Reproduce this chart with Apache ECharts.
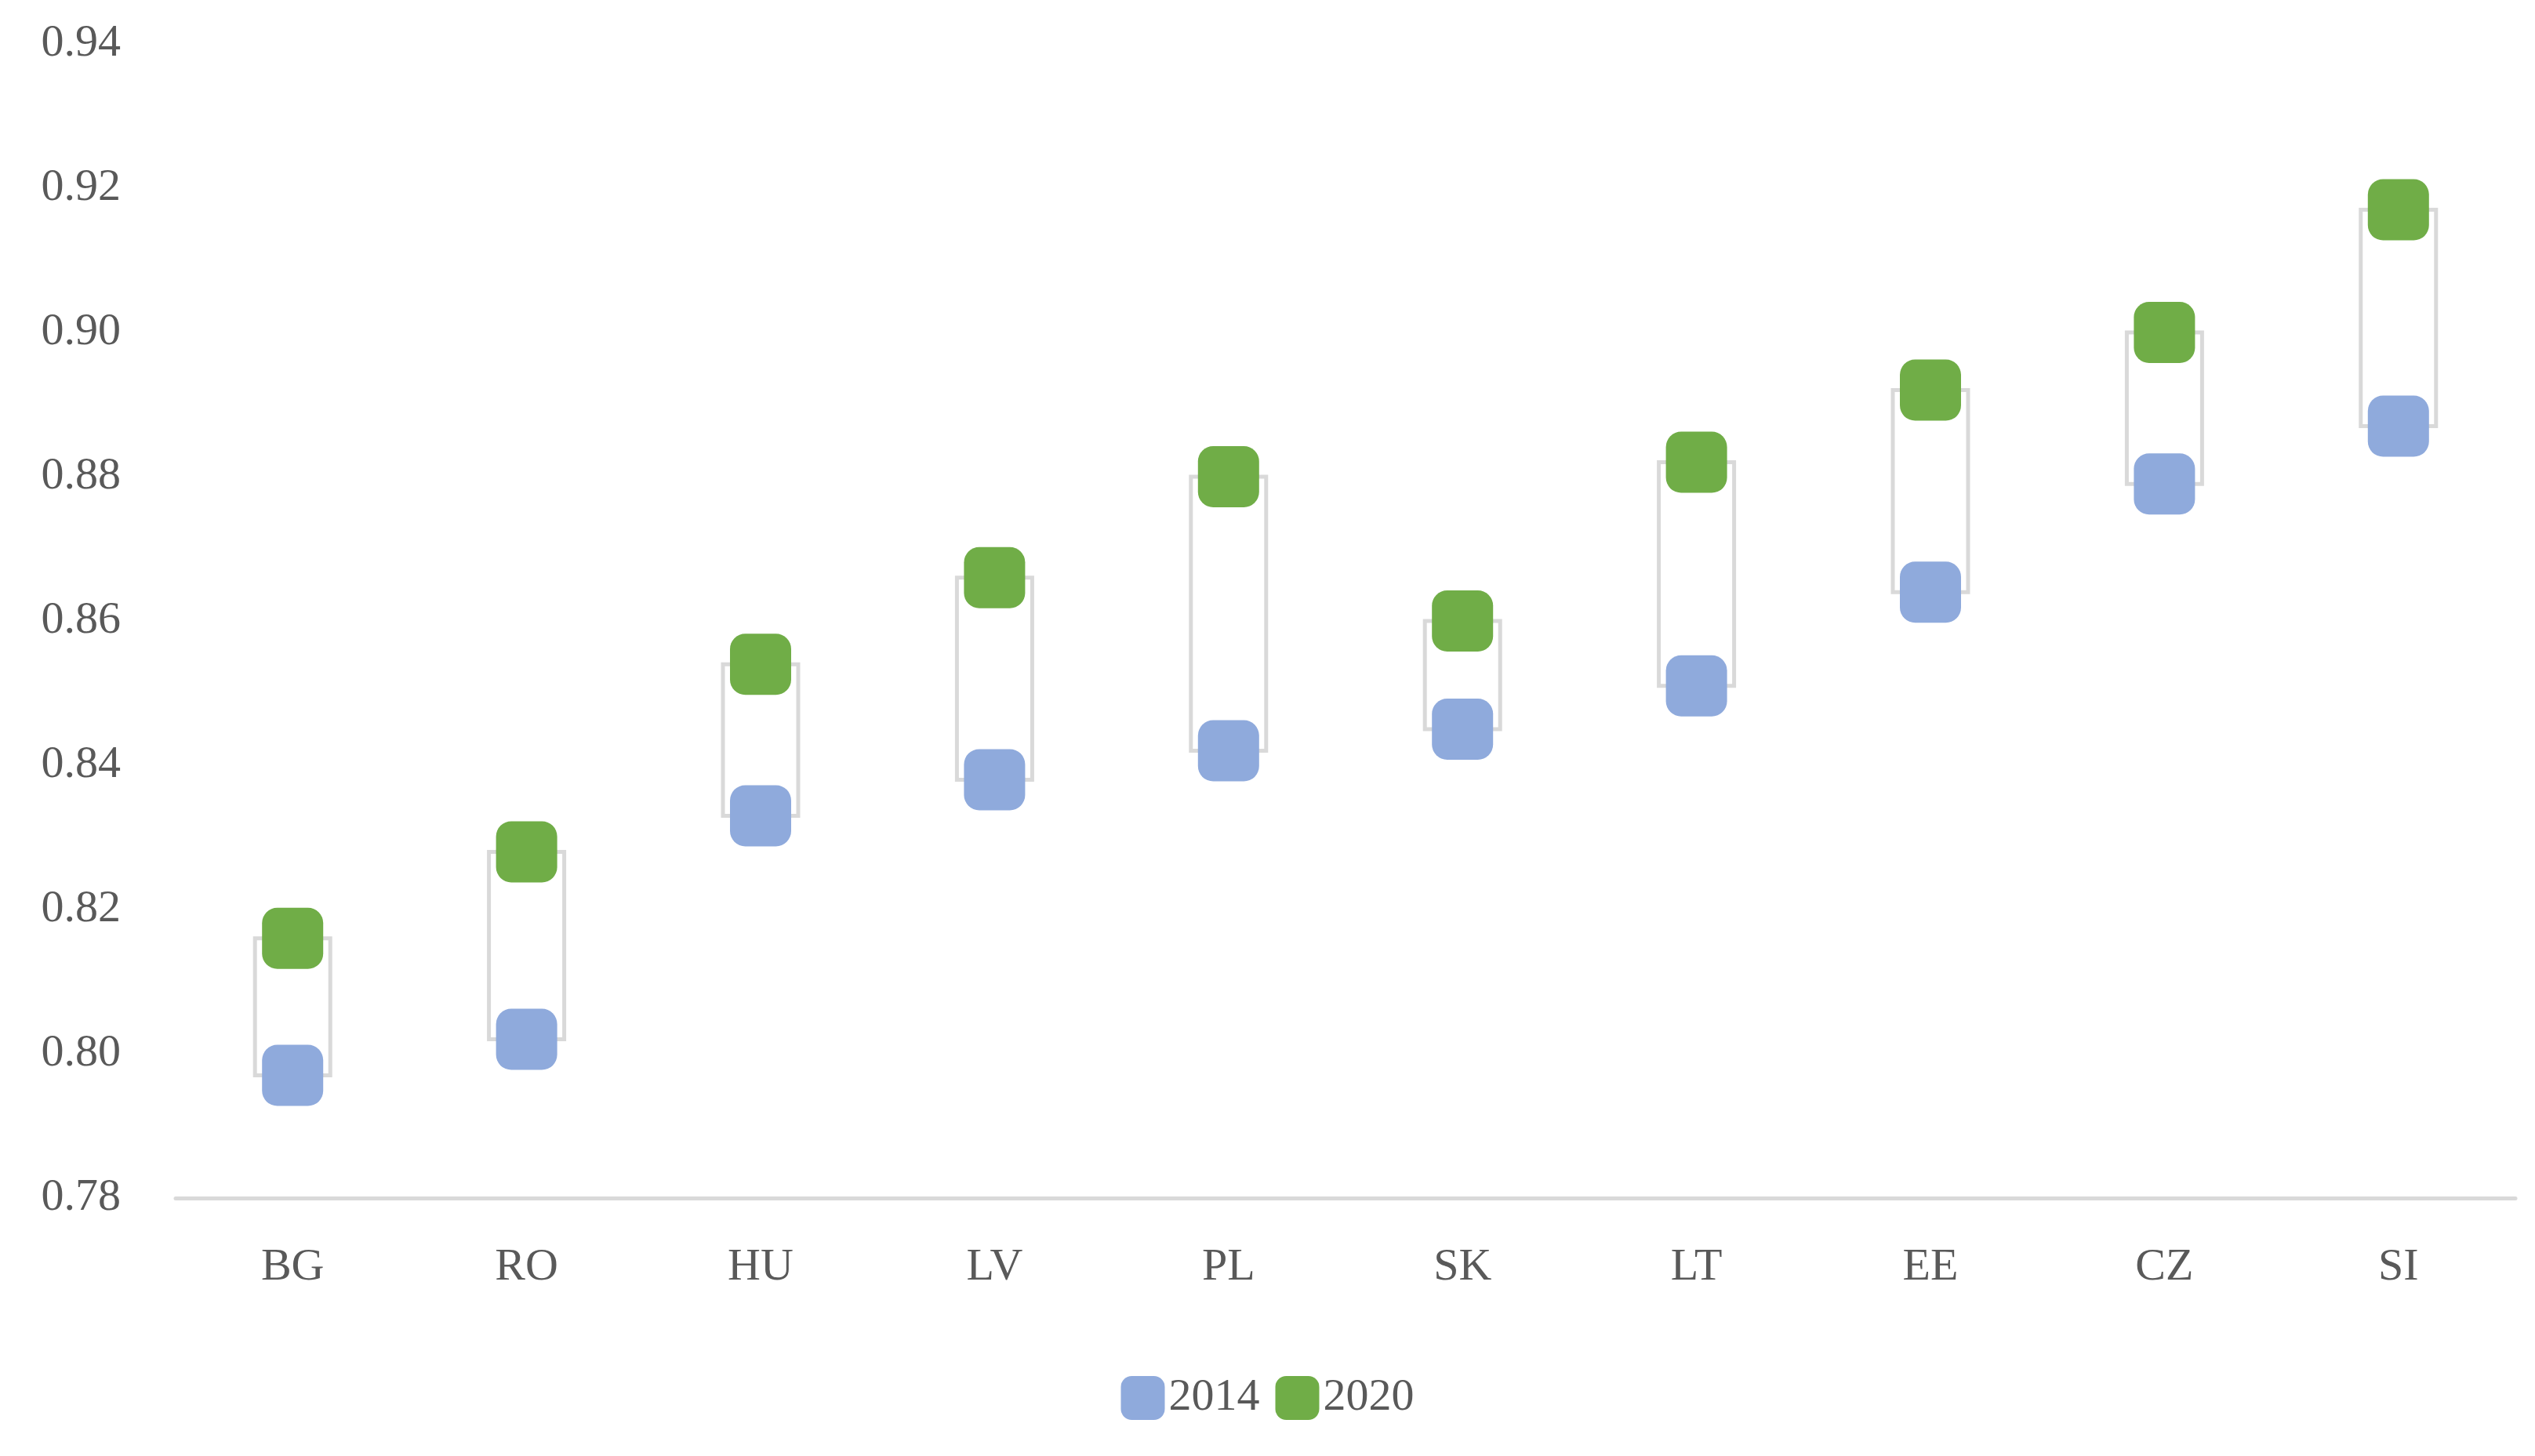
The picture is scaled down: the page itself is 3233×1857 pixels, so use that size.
<!DOCTYPE html>
<html>
<head>
<meta charset="utf-8">
<script src="https://cdn.jsdelivr.net/npm/echarts@6/dist/echarts.min.js"></script>
<style>html,body{margin:0;padding:0;background:#fff}#chart{width:3233px;height:1857px}</style>
</head>
<body>
<div id="chart"></div>
<script>
var countries = ['BG', 'RO', 'HU', 'LV', 'PL', 'SK', 'LT', 'EE', 'CZ', 'SI'];
var values2014 = [0.797, 0.802, 0.833, 0.838, 0.842, 0.845, 0.851, 0.864, 0.879, 0.887];
var values2020 = [0.816, 0.828, 0.854, 0.866, 0.880, 0.860, 0.882, 0.892, 0.900, 0.917];

var chart = echarts.init(document.getElementById('chart'));
var font = 'Liberation Serif, serif';
var textColor = '#595959';

var option = {
    animation: false,
    grid: {left: 224, right: 25, top: 56, bottom: 329},
    legend: {
        data: ['2014', '2020'],
        bottom: 40,
        itemWidth: 56,
        itemHeight: 56,
        itemGap: 20,
        textStyle: {fontFamily: font, fontSize: 58, color: textColor}
    },
    xAxis: {
        type: 'category',
        data: countries,
        axisTick: {show: false},
        axisLine: {lineStyle: {color: '#d9d9d9', width: 5}},
        axisLabel: {fontFamily: font, fontSize: 58, color: textColor, margin: 60}
    },
    yAxis: {
        type: 'value',
        min: 0.78,
        max: 0.94,
        interval: 0.02,
        splitLine: {show: false},
        axisLine: {show: false},
        axisLabel: {
            fontFamily: font, fontSize: 58, color: textColor, margin: 70,
            formatter: (v) => v.toFixed(2)
        }
    },
    series: [
        {
            type: 'custom',
            silent: true,
            data: countries.map((c, i) => [i, values2014[i], values2020[i]]),
            renderItem: (params, api) => {
                var lo = api.coord([api.value(0), api.value(1)]);
                var hi = api.coord([api.value(0), api.value(2)]);
                var w = 96;
                return {
                    type: 'rect',
                    shape: {x: lo[0] - w / 2, y: hi[1], width: w, height: lo[1] - hi[1]},
                    style: {fill: 'none', stroke: '#d9d9d9', lineWidth: 5}
                };
            }
        },
        {
            name: '2014',
            type: 'scatter',
            symbol: 'roundRect',
            symbolSize: 78,
            itemStyle: {color: '#8faadc', opacity: 1},
            data: values2014
        },
        {
            name: '2020',
            type: 'scatter',
            symbol: 'roundRect',
            symbolSize: 78,
            itemStyle: {color: '#70ad47', opacity: 1},
            data: values2020
        }
    ]
};

chart.setOption(option);
</script>
</body>
</html>
